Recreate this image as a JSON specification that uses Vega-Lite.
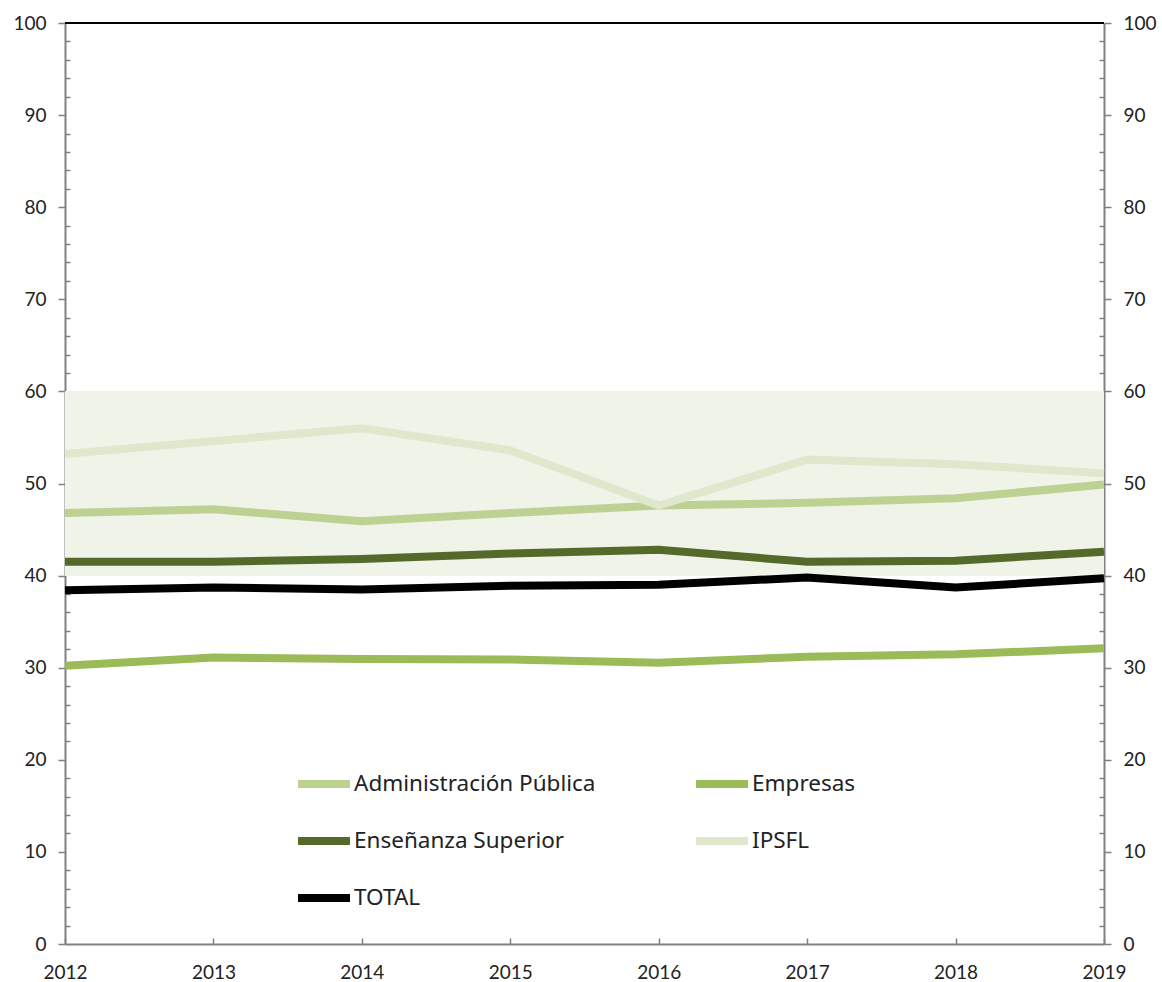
{
  "$schema": "https://vega.github.io/schema/vega-lite/v6.json",
  "autosize": {"type": "none"},
  "padding": {"left": 65, "top": 23, "right": 58, "bottom": 38},
  "width": 1039,
  "height": 921,
  "background": "white",
  "config": {
    "view": {"stroke": null},
    "font": "Lato",
    "axis": {"labelFont": "Lato", "labelFontSize": 19, "labelColor": "#222222", "domainColor": "#808080", "domainWidth": 2, "tickColor": "#808080", "tickWidth": 1.5, "grid": false, "title": null}
  },
  "data": {"values": [
    {"year": 2012, "serie": "Administración Pública", "value": 46.8},
    {"year": 2013, "serie": "Administración Pública", "value": 47.2},
    {"year": 2014, "serie": "Administración Pública", "value": 45.9},
    {"year": 2015, "serie": "Administración Pública", "value": 46.8},
    {"year": 2016, "serie": "Administración Pública", "value": 47.6},
    {"year": 2017, "serie": "Administración Pública", "value": 47.9},
    {"year": 2018, "serie": "Administración Pública", "value": 48.4},
    {"year": 2019, "serie": "Administración Pública", "value": 49.9},
    {"year": 2012, "serie": "Empresas", "value": 30.2},
    {"year": 2013, "serie": "Empresas", "value": 31.1},
    {"year": 2014, "serie": "Empresas", "value": 30.95},
    {"year": 2015, "serie": "Empresas", "value": 30.9},
    {"year": 2016, "serie": "Empresas", "value": 30.55},
    {"year": 2017, "serie": "Empresas", "value": 31.2},
    {"year": 2018, "serie": "Empresas", "value": 31.45},
    {"year": 2019, "serie": "Empresas", "value": 32.1},
    {"year": 2012, "serie": "Enseñanza Superior", "value": 41.5},
    {"year": 2013, "serie": "Enseñanza Superior", "value": 41.5},
    {"year": 2014, "serie": "Enseñanza Superior", "value": 41.8},
    {"year": 2015, "serie": "Enseñanza Superior", "value": 42.4},
    {"year": 2016, "serie": "Enseñanza Superior", "value": 42.8},
    {"year": 2017, "serie": "Enseñanza Superior", "value": 41.5},
    {"year": 2018, "serie": "Enseñanza Superior", "value": 41.6},
    {"year": 2019, "serie": "Enseñanza Superior", "value": 42.6},
    {"year": 2012, "serie": "IPSFL", "value": 53.2},
    {"year": 2013, "serie": "IPSFL", "value": 54.6},
    {"year": 2014, "serie": "IPSFL", "value": 56.0},
    {"year": 2015, "serie": "IPSFL", "value": 53.6},
    {"year": 2016, "serie": "IPSFL", "value": 47.6},
    {"year": 2017, "serie": "IPSFL", "value": 52.6},
    {"year": 2018, "serie": "IPSFL", "value": 52.1},
    {"year": 2019, "serie": "IPSFL", "value": 51.1},
    {"year": 2012, "serie": "TOTAL", "value": 38.4},
    {"year": 2013, "serie": "TOTAL", "value": 38.7},
    {"year": 2014, "serie": "TOTAL", "value": 38.5},
    {"year": 2015, "serie": "TOTAL", "value": 38.9},
    {"year": 2016, "serie": "TOTAL", "value": 39.0},
    {"year": 2017, "serie": "TOTAL", "value": 39.8},
    {"year": 2018, "serie": "TOTAL", "value": 38.7},
    {"year": 2019, "serie": "TOTAL", "value": 39.7}
  ]},
  "layer": [
    {
      "mark": {"type": "rect", "color": "#eff3e8"},
      "encoding": {
        "y": {"datum": 40, "type": "quantitative", "scale": {"domain": [0, 100], "nice": false}, "axis": null},
        "y2": {"datum": 60}
      }
    },
    {
      "mark": {"type": "line", "strokeWidth": 8},
      "encoding": {
        "x": {"field": "year", "type": "ordinal", "scale": {"type": "point", "padding": 0},
          "axis": {"orient": "bottom", "labelAngle": 0, "tickSize": -6, "labelPadding": 25, "domainWidth": 2}},
        "y": {"field": "value", "type": "quantitative", "scale": {"domain": [0, 100], "nice": false},
          "axis": {"orient": "left", "values": [0,2,4,6,8,10,12,14,16,18,20,22,24,26,28,30,32,34,36,38,40,42,44,46,48,50,52,54,56,58,60,62,64,66,68,70,72,74,76,78,80,82,84,86,88,90,92,94,96,98,100],
            "labelExpr": "datum.value % 10 === 0 ? datum.label : ''", "labelOverlap": false, "labelFlush": false,
            "tickSize": {"condition": {"test": "datum.value % 10 === 0", "value": 7}, "value": -5},
            "labelPadding": 12}},
        "color": {"field": "serie", "type": "nominal",
          "scale": {"domain": ["Administración Pública", "Empresas", "Enseñanza Superior", "IPSFL", "TOTAL"],
            "range": ["#bcd192", "#9bbb59", "#546a2b", "#dfe7cd", "#000000"]},
          "legend": {"title": null, "orient": "none", "legendX": 229, "legendY": 731, "columns": 2, "direction": "horizontal",
            "symbolType": "stroke", "symbolSize": 2704, "symbolStrokeWidth": 8, "labelFont": "Noto Sans", "labelFontSize": 22.5, "labelColor": "#222222",
            "labelLimit": 500, "labelOffset": 0, "columnPadding": 84, "rowPadding": 11, "gridAlign": "each"}}
      }
    },
    {
      "mark": {"type": "rule", "color": "#000000", "strokeWidth": 2},
      "encoding": {
        "y": {"datum": 100, "type": "quantitative", "scale": {"domain": [0, 100], "nice": false},
          "axis": {"orient": "right", "values": [0,2,4,6,8,10,12,14,16,18,20,22,24,26,28,30,32,34,36,38,40,42,44,46,48,50,52,54,56,58,60,62,64,66,68,70,72,74,76,78,80,82,84,86,88,90,92,94,96,98,100],
            "labelExpr": "datum.value % 10 === 0 ? datum.label : ''", "labelOverlap": false, "labelFlush": false,
            "tickSize": {"condition": {"test": "datum.value % 10 === 0", "value": 7}, "value": -5},
            "labelPadding": 12}}
      }
    }
  ],
  "resolve": {"axis": {"y": "independent"}}
}
